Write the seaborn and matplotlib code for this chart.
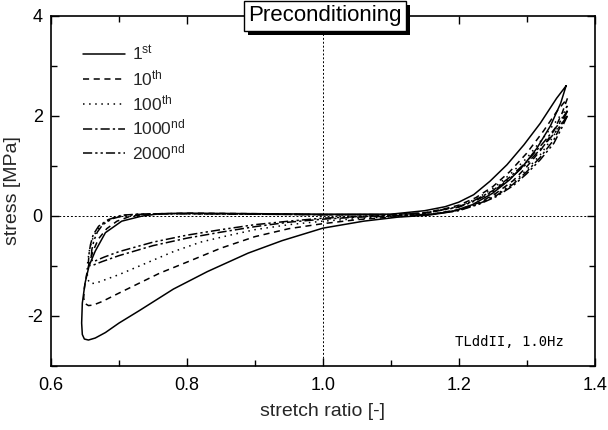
import matplotlib
matplotlib.use("Agg")
import matplotlib.pyplot as plt
import matplotlib.patheffects as pe
from matplotlib.lines import Line2D
from matplotlib.ticker import MultipleLocator, FormatStrFormatter
import seaborn as sns
import pandas as pd

# ---------------- data ----------------
cycles = ["1st", "10th", "100th", "1000nd", "2000nd"]
legend_labels = [r"1$^{\mathrm{st}}$", r"10$^{\mathrm{th}}$", r"100$^{\mathrm{th}}$",
                 r"1000$^{\mathrm{nd}}$", r"2000$^{\mathrm{nd}}$"]

x_1st = [1.358, 1.350, 1.335, 1.315, 1.295, 1.275, 1.250, 1.220, 1.190, 1.155, 1.110, 1.060,
         1.000, 0.940, 0.890, 0.830, 0.780, 0.730, 0.700, 0.680, 0.665, 0.655, 0.649, 0.646,
         0.645, 0.646, 0.650, 0.656, 0.665, 0.680, 0.704, 0.733, 0.760, 0.800, 0.900, 1.000,
         1.100, 1.150, 1.180, 1.200, 1.222, 1.246, 1.271, 1.296, 1.320, 1.344, 1.358]
y_1st = [2.60, 2.25, 1.80, 1.35, 1.00, 0.72, 0.45, 0.22, 0.08, 0.01, -0.03, -0.11,
         -0.25, -0.50, -0.75, -1.12, -1.47, -1.90, -2.15, -2.34, -2.45, -2.49, -2.47, -2.38,
         -2.15, -1.75, -1.35, -1.00, -0.71, -0.34, -0.11, -0.01, 0.04, 0.05, 0.04, 0.03,
         0.03, 0.10, 0.18, 0.27, 0.42, 0.69, 1.02, 1.42, 1.85, 2.35, 2.60]

x_10th = [1.360, 1.352, 1.340, 1.320, 1.300, 1.280, 1.255, 1.230, 1.200, 1.160, 1.100, 1.050,
          1.000, 0.950, 0.900, 0.850, 0.800, 0.760, 0.730, 0.700, 0.675, 0.662, 0.655, 0.650,
          0.648, 0.649, 0.652, 0.656, 0.662, 0.670, 0.682, 0.697, 0.715, 0.740, 0.800, 0.900,
          1.000, 1.100, 1.150, 1.180, 1.200, 1.225, 1.250, 1.275, 1.300, 1.325, 1.345, 1.360]
y_10th = [2.35, 2.05, 1.70, 1.30, 0.98, 0.70, 0.45, 0.26, 0.12, 0.03, -0.03, -0.08,
          -0.16, -0.26, -0.42, -0.65, -0.93, -1.15, -1.35, -1.55, -1.72, -1.79, -1.80, -1.76,
          -1.65, -1.45, -1.20, -0.95, -0.70, -0.46, -0.26, -0.11, -0.02, 0.03, 0.05, 0.04,
          0.02, 0.02, 0.06, 0.14, 0.21, 0.36, 0.58, 0.88, 1.25, 1.70, 2.10, 2.35]

x_100th = [1.360, 1.352, 1.340, 1.320, 1.300, 1.280, 1.255, 1.230, 1.200, 1.160, 1.100, 1.050,
           1.000, 0.950, 0.900, 0.860, 0.820, 0.780, 0.740, 0.700, 0.680, 0.666, 0.658, 0.654,
           0.653, 0.654, 0.656, 0.660, 0.667, 0.678, 0.695, 0.720, 0.760, 0.850, 1.000, 1.100,
           1.150, 1.200, 1.225, 1.250, 1.275, 1.300, 1.325, 1.345, 1.360]
y_100th = [2.20, 1.95, 1.60, 1.22, 0.92, 0.66, 0.42, 0.25, 0.11, 0.03, -0.02, -0.06,
           -0.11, -0.18, -0.28, -0.40, -0.53, -0.72, -0.95, -1.18, -1.28, -1.35, -1.36, -1.28,
           -1.12, -0.92, -0.72, -0.50, -0.30, -0.14, -0.03, 0.02, 0.04, 0.04, 0.02, 0.02,
           0.05, 0.19, 0.33, 0.54, 0.82, 1.15, 1.57, 1.92, 2.20]

x_1000nd = [1.360, 1.352, 1.340, 1.320, 1.300, 1.280, 1.255, 1.230, 1.200, 1.160, 1.100, 1.050,
            1.000, 0.950, 0.900, 0.850, 0.800, 0.750, 0.700, 0.675, 0.662, 0.657, 0.655, 0.656,
            0.658, 0.662, 0.670, 0.684, 0.704, 0.728, 0.780, 0.900, 1.000, 1.100, 1.150, 1.200,
            1.225, 1.250, 1.275, 1.300, 1.325, 1.345, 1.360]
y_1000nd = [2.10, 1.85, 1.52, 1.17, 0.88, 0.63, 0.40, 0.24, 0.11, 0.03, -0.01, -0.03,
            -0.07, -0.13, -0.22, -0.33, -0.45, -0.60, -0.80, -0.92, -0.99, -1.00, -0.92, -0.75,
            -0.58, -0.38, -0.21, -0.08, 0.01, 0.03, 0.04, 0.03, 0.02, 0.02, 0.05, 0.18,
            0.32, 0.50, 0.77, 1.08, 1.47, 1.80, 2.10]

x_2000nd = [1.360, 1.352, 1.340, 1.320, 1.300, 1.280, 1.255, 1.230, 1.200, 1.160, 1.100, 1.050,
            1.000, 0.950, 0.900, 0.850, 0.800, 0.750, 0.700, 0.678, 0.666, 0.661, 0.659, 0.660,
            0.663, 0.668, 0.676, 0.690, 0.710, 0.735, 0.780, 0.900, 1.000, 1.100, 1.150, 1.200,
            1.225, 1.250, 1.275, 1.300, 1.325, 1.345, 1.360]
y_2000nd = [2.00, 1.77, 1.45, 1.12, 0.84, 0.60, 0.38, 0.23, 0.10, 0.03, 0.00, -0.02,
            -0.05, -0.11, -0.18, -0.28, -0.39, -0.53, -0.72, -0.83, -0.90, -0.92, -0.85, -0.68,
            -0.50, -0.33, -0.18, -0.06, 0.01, 0.03, 0.04, 0.03, 0.02, 0.02, 0.05, 0.17,
            0.30, 0.48, 0.74, 1.04, 1.40, 1.72, 2.00]

x_ticks = [0.6, 0.8, 1.0, 1.2, 1.4]
y_ticks = [-2, 0, 2, 4]

title_text = "Preconditioning"
note_text = "TLddII, 1.0Hz"
x_label = "stretch ratio [-]"
y_label = "stress [MPa]"

# ---------------- style ----------------
sns.set_style("ticks")
plt.rcParams["font.family"] = ["Liberation Sans", "DejaVu Sans"]
plt.rcParams["mathtext.fontset"] = "custom"
plt.rcParams["mathtext.rm"] = "Liberation Sans"
plt.rcParams["mathtext.it"] = "Liberation Sans:italic"
plt.rcParams["mathtext.bf"] = "Liberation Sans:bold"
plt.rcParams["axes.unicode_minus"] = False

dash_map = {"1st": "", "10th": (4, 3), "100th": (1, 3),
            "1000nd": (6, 2, 1.5, 2), "2000nd": (6, 2, 1.5, 2, 1.5, 2)}
ls_map = {"1st": "-", "10th": (0, (4, 3)), "100th": (0, (1, 3)),
          "1000nd": (0, (6, 2, 1.5, 2)), "2000nd": (0, (6, 2, 1.5, 2, 1.5, 2))}

frames = []
for name, xs, ys in zip(cycles,
                        [x_1st, x_10th, x_100th, x_1000nd, x_2000nd],
                        [y_1st, y_10th, y_100th, y_1000nd, y_2000nd]):
    frames.append(pd.DataFrame({"x": xs, "y": ys, "cycle": name}))
df = pd.concat(frames, ignore_index=True)

fig = plt.figure(figsize=(6.08, 4.30), dpi=100)
ax = fig.add_axes([0.084, 0.150, 0.894, 0.813])

# reference lines
ax.axvline(1.0, color="black", lw=0.7, ls=(0, (2, 2)), zorder=1)
ax.axhline(0.0, color="black", lw=0.7, ls=(0, (2, 2)), zorder=1)

sns.lineplot(data=df, x="x", y="y", style="cycle", style_order=cycles,
             dashes=dash_map, sort=False, estimator=None, color="black",
             linewidth=1.1, legend=False, ax=ax, zorder=3)

ax.set_xlim(0.6, 1.4)
ax.set_ylim(-3, 4)
ax.xaxis.set_minor_locator(MultipleLocator(0.1))
ax.yaxis.set_minor_locator(MultipleLocator(1))
ax.set_xticks(x_ticks)
ax.set_yticks(y_ticks)
ax.xaxis.set_major_formatter(FormatStrFormatter("%.1f"))
ax.yaxis.set_major_formatter(FormatStrFormatter("%d"))
ax.tick_params(which="both", direction="in", top=True, right=True,
               width=1.0, colors="black", labelsize=13)
ax.tick_params(axis="x", which="major", length=6, pad=8)
ax.tick_params(axis="y", which="major", length=6, pad=6)
ax.tick_params(which="minor", length=4)
for sp in ax.spines.values():
    sp.set_linewidth(1.2)
    sp.set_color("black")

ax.set_xlabel(x_label, fontsize=14, labelpad=7)
ax.set_ylabel(y_label, fontsize=14, labelpad=4)

# legend
handles = [Line2D([], [], color="black", lw=1.1, ls=ls_map[c]) for c in cycles]
ax.legend(handles, legend_labels, loc="upper left", bbox_to_anchor=(0.059, 0.92),
          frameon=False, fontsize=12.5, handlelength=2.4, handletextpad=0.4,
          labelspacing=0.28, borderpad=0, borderaxespad=0)

# title box with shadow
t = ax.text(0.5035, 1.0, title_text, transform=ax.transAxes, ha="center", va="center",
            fontsize=16, color="black", zorder=10, clip_on=False,
            bbox=dict(boxstyle="square,pad=0.2", fc="white", ec="black", lw=1.0))
t.get_bbox_patch().set_path_effects([
    pe.SimplePatchShadow(offset=(3, -3), shadow_rgbFace="black", alpha=1.0),
    pe.Normal()])

# note
ax.text(0.943, 0.068, note_text, transform=ax.transAxes, ha="right", va="center",
        fontsize=10, family="DejaVu Sans Mono", color="black")

fig.savefig("out.png", dpi=100)
